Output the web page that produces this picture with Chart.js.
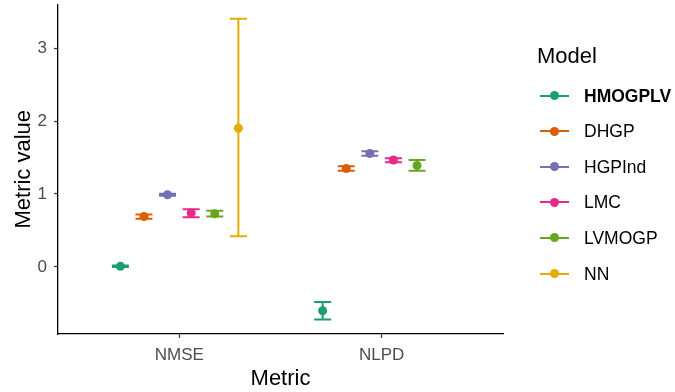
<!DOCTYPE html>
<html>
<head>
<meta charset="utf-8">
<script src="https://cdn.jsdelivr.net/npm/chart.js@4.4.0/dist/chart.umd.min.js"></script>
<style>
  html, body { margin: 0; padding: 0; background: #fff; }
  #wrap { position: relative; width: 675px; height: 392px; font-family: "Liberation Sans", Arial, sans-serif; }
  #c { position: absolute; left: 0; top: 0; }
  .legend-title { position: absolute; left: 537px; top: 43px; font-size: 22px; line-height: 26px; color: #000; }
  .item { position: absolute; left: 540px; height: 20px; width: 135px; }
  .item .ln { position: absolute; left: 0; top: 9px; width: 29px; height: 2px; }
  .item .dt { position: absolute; left: 10px; top: 5.5px; width: 9px; height: 9px; border-radius: 50%; }
  .item .tx { position: absolute; left: 44px; top: 0; font-size: 17.5px; line-height: 20px; color: #000; white-space: nowrap; }
</style>
</head>
<body>
<div id="wrap">
  <canvas id="c" width="675" height="392"></canvas>
  <div id="legend"></div>
</div>
<script>
// ---- data ----
const categories = ["NMSE", "NLPD"];
const models = ["HMOGPLV", "DHGP", "HGPInd", "LMC", "LVMOGP", "NN"];
const colors = ["#1B9E77", "#D95F02", "#7570B3", "#E7298A", "#66A61E", "#E6AB02"];
// mean, lower, upper per model, per category [NMSE, NLPD]
const meanHMOGPLV = [0.01, -0.60];
const lowHMOGPLV  = [0.00, -0.72];
const highHMOGPLV = [0.02, -0.48];
const meanDHGP = [0.69, 1.35];
const lowDHGP  = [0.66, 1.32];
const highDHGP = [0.72, 1.38];
const meanHGPInd = [0.99, 1.555];
const lowHGPInd  = [0.975, 1.525];
const highHGPInd = [1.005, 1.585];
const meanLMC = [0.74, 1.465];
const lowLMC  = [0.68, 1.435];
const highLMC = [0.79, 1.49];
const meanLVMOGP = [0.73, 1.39];
const lowLVMOGP  = [0.69, 1.32];
const highLVMOGP = [0.77, 1.465];
const meanNN = [1.90, null];
const lowNN  = [0.42, null];
const highNN = [3.40, null];
const yTicks = [0, 1, 2, 3];

const means = [meanHMOGPLV, meanDHGP, meanHGPInd, meanLMC, meanLVMOGP, meanNN];
const lows  = [lowHMOGPLV, lowDHGP, lowHGPInd, lowLMC, lowLVMOGP, lowNN];
const highs = [highHMOGPLV, highDHGP, highHGPInd, highLMC, highLVMOGP, highNN];

const dodgeWidth = 0.7;
const nGroups = models.length;
function xPos(catIdx, modelIdx) {
  return catIdx + 1 + (modelIdx - (nGroups - 1) / 2) * (dodgeWidth / nGroups);
}

const datasets = models.map((m, i) => ({
  label: m,
  data: categories.map((c, j) => means[i][j] == null ? null : { x: xPos(j, i), y: means[i][j] }).filter(d => d),
  backgroundColor: colors[i],
  borderColor: colors[i],
  pointRadius: 4.5,
  pointHoverRadius: 4.5,
  borderWidth: 0,
  errLow: lows[i],
  errHigh: highs[i],
  modelIndex: i
}));

const errorBars = {
  id: 'errorBars',
  beforeDatasetsDraw(chart) {
    const ctx = chart.ctx;
    const xs = chart.scales.x, ys = chart.scales.y;
    const capHalf = 0.042;
    chart.data.datasets.forEach(ds => {
      categories.forEach((c, j) => {
        const lo = ds.errLow[j], hi = ds.errHigh[j];
        if (lo == null || hi == null) return;
        const xv = xPos(j, ds.modelIndex);
        const px = xs.getPixelForValue(xv);
        const pl = xs.getPixelForValue(xv - capHalf);
        const pr = xs.getPixelForValue(xv + capHalf);
        const py1 = ys.getPixelForValue(lo);
        const py2 = ys.getPixelForValue(hi);
        ctx.save();
        ctx.strokeStyle = ds.borderColor;
        ctx.lineWidth = 2;
        ctx.beginPath();
        ctx.moveTo(px, py1); ctx.lineTo(px, py2);
        ctx.moveTo(pl, py1); ctx.lineTo(pr, py1);
        ctx.moveTo(pl, py2); ctx.lineTo(pr, py2);
        ctx.stroke();
        ctx.restore();
      });
    });
  }
};

const FONT = '"Liberation Sans", Arial, sans-serif';

new Chart(document.getElementById('c'), {
  type: 'scatter',
  data: { datasets },
  plugins: [errorBars],
  options: {
    responsive: false,
    animation: false,
    layout: { padding: { top: 3, right: 172, left: 0, bottom: 0 } },
    plugins: { legend: { display: false }, tooltip: { enabled: false } },
    scales: {
      x: {
        type: 'linear',
        min: 0.4, max: 2.6,
        afterBuildTicks: s => { s.ticks = categories.map((c, j) => ({ value: j + 1 })); },
        afterFit: s => { s.height = 58; s.paddingLeft = 0; s.paddingRight = 0; },
        ticks: {
          callback: v => categories[Math.round(v) - 1],
          font: { family: FONT, size: 17 },
          color: '#4D4D4D',
          padding: 7,
          maxRotation: 0
        },
        grid: { drawOnChartArea: false, drawTicks: true, tickLength: 4, tickWidth: 1.2, color: '#333333' },
        border: { display: true, color: '#000000', width: 1.3 },
        title: { display: true, text: 'Metric', font: { family: FONT, size: 22 }, color: '#000', padding: { top: 0, bottom: 0 } }
      },
      y: {
        type: 'linear',
        min: -0.918, max: 3.596,
        afterBuildTicks: s => { s.ticks = yTicks.map(v => ({ value: v })); },
        afterFit: s => { s.width = 58; s.paddingTop = 0; s.paddingBottom = 0; },
        ticks: {
          font: { family: FONT, size: 17 },
          color: '#4D4D4D',
          padding: 7
        },
        grid: { drawOnChartArea: false, drawTicks: true, tickLength: 4, tickWidth: 1.2, color: '#333333' },
        border: { display: true, color: '#000000', width: 1.3 },
        title: { display: true, text: 'Metric value', font: { family: FONT, size: 22 }, color: '#000', padding: { top: 11, bottom: 0 } }
      }
    }
  }
});

// legend
const leg = document.getElementById('legend');
const t = document.createElement('div');
t.className = 'legend-title'; t.textContent = 'Model';
leg.appendChild(t);
models.forEach((m, i) => {
  const it = document.createElement('div');
  it.className = 'item';
  it.style.top = (95.5 + 35.6 * i - 10) + 'px';
  it.innerHTML = '<div class="ln" style="background:' + colors[i] + '"></div>' +
    '<div class="dt" style="background:' + colors[i] + '"></div>' +
    '<div class="tx" style="' + (i === 0 ? 'font-weight:bold;' : '') + '">' + m + '</div>';
  leg.appendChild(it);
});
</script>
</body>
</html>
